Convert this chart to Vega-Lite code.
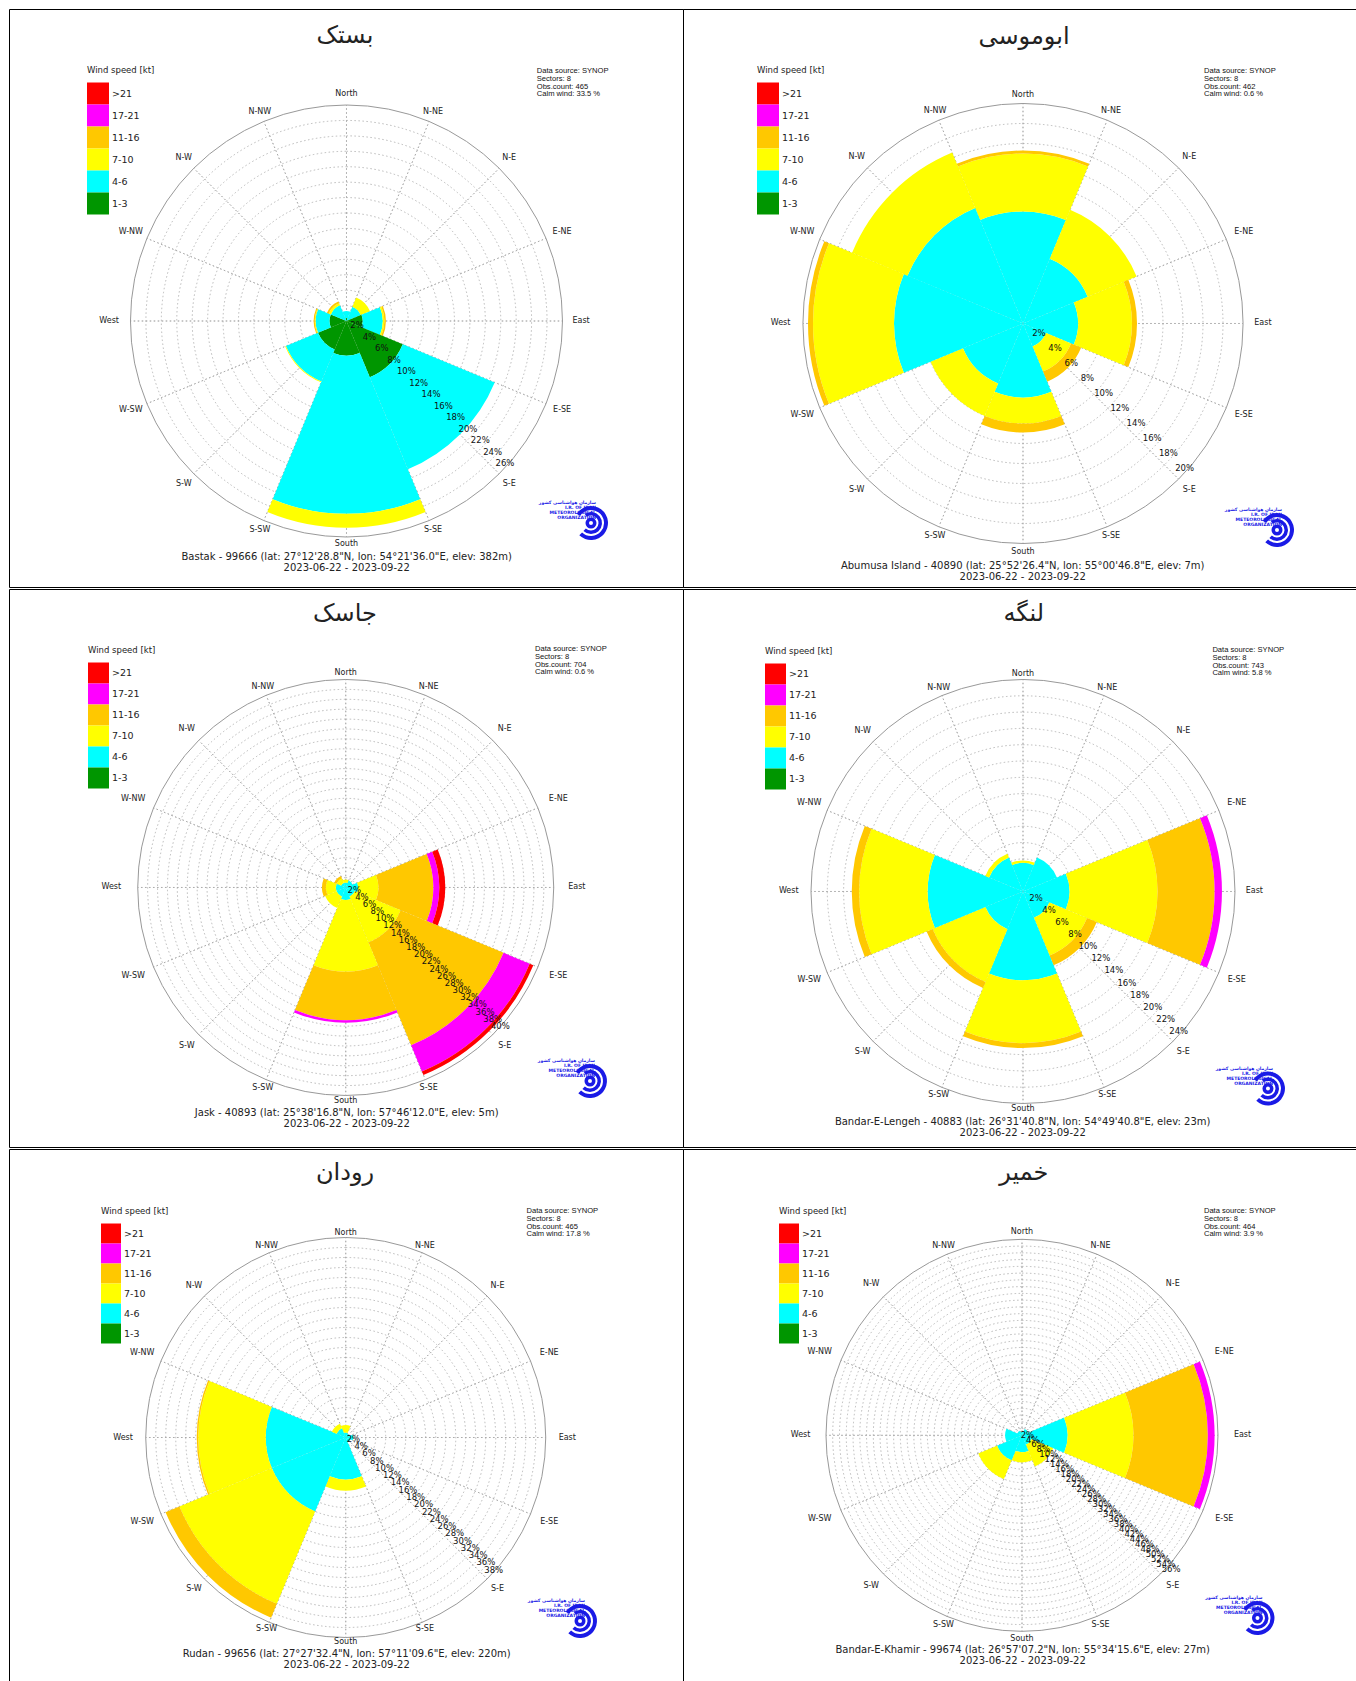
{
  "$schema": "https://vega.github.io/schema/vega-lite/v6.json",
  "background": "white",
  "padding": {"left": 8, "top": 8, "right": 0, "bottom": 0},
  "spacing": 0,
  "resolve": {"scale": {"color": "independent", "radius": "independent", "theta": "independent", "x": "independent", "y": "independent"}, "legend": {"color": "independent"}},
  "config": {
    "view": {"stroke": "#000000", "strokeWidth": 1},
    "text": {"font": "DejaVu Sans"},
    "legend": {"symbolType": "square", "symbolStrokeWidth": 0, "symbolOpacity": 1, "rowPadding": 0, "labelFont": "DejaVu Sans", "labelFontSize": 9.5, "labelColor": "#222222", "labelOffset": 3, "titleFont": "DejaVu Sans", "titleFontSize": 8.5, "titleFontWeight": "normal", "titleColor": "#222222", "titlePadding": 8}
  },
  "datasets": {
    "compass": [
      {"a": 0, "n": "North"}, {"a": 22.5, "n": "N-NE"}, {"a": 45, "n": "N-E"}, {"a": 67.5, "n": "E-NE"},
      {"a": 90, "n": "East"}, {"a": 112.5, "n": "E-SE"}, {"a": 135, "n": "S-E"}, {"a": 157.5, "n": "S-SE"},
      {"a": 180, "n": "South"}, {"a": 202.5, "n": "S-SW"}, {"a": 225, "n": "S-W"}, {"a": 247.5, "n": "W-SW"},
      {"a": 270, "n": "West"}, {"a": 292.5, "n": "W-NW"}, {"a": 315, "n": "N-W"}, {"a": 337.5, "n": "N-NW"}
    ],
    "r22": [{"r":2,"t":"2%"},{"r":4,"t":"4%"},{"r":6,"t":"6%"},{"r":8,"t":"8%"},{"r":10,"t":"10%"},{"r":12,"t":"12%"},{"r":14,"t":"14%"},{"r":16,"t":"16%"},{"r":18,"t":"18%"},{"r":20,"t":"20%"}],
    "r26": [{"r":2,"t":"2%"},{"r":4,"t":"4%"},{"r":6,"t":"6%"},{"r":8,"t":"8%"},{"r":10,"t":"10%"},{"r":12,"t":"12%"},{"r":14,"t":"14%"},{"r":16,"t":"16%"},{"r":18,"t":"18%"},{"r":20,"t":"20%"},{"r":22,"t":"22%"},{"r":24,"t":"24%"}],
    "r28": [{"r":2,"t":"2%"},{"r":4,"t":"4%"},{"r":6,"t":"6%"},{"r":8,"t":"8%"},{"r":10,"t":"10%"},{"r":12,"t":"12%"},{"r":14,"t":"14%"},{"r":16,"t":"16%"},{"r":18,"t":"18%"},{"r":20,"t":"20%"},{"r":22,"t":"22%"},{"r":24,"t":"24%"},{"r":26,"t":"26%"}],
    "r40": [{"r":2,"t":"2%"},{"r":4,"t":"4%"},{"r":6,"t":"6%"},{"r":8,"t":"8%"},{"r":10,"t":"10%"},{"r":12,"t":"12%"},{"r":14,"t":"14%"},{"r":16,"t":"16%"},{"r":18,"t":"18%"},{"r":20,"t":"20%"},{"r":22,"t":"22%"},{"r":24,"t":"24%"},{"r":26,"t":"26%"},{"r":28,"t":"28%"},{"r":30,"t":"30%"},{"r":32,"t":"32%"},{"r":34,"t":"34%"},{"r":36,"t":"36%"},{"r":38,"t":"38%"}],
    "r42": [{"r":2,"t":"2%"},{"r":4,"t":"4%"},{"r":6,"t":"6%"},{"r":8,"t":"8%"},{"r":10,"t":"10%"},{"r":12,"t":"12%"},{"r":14,"t":"14%"},{"r":16,"t":"16%"},{"r":18,"t":"18%"},{"r":20,"t":"20%"},{"r":22,"t":"22%"},{"r":24,"t":"24%"},{"r":26,"t":"26%"},{"r":28,"t":"28%"},{"r":30,"t":"30%"},{"r":32,"t":"32%"},{"r":34,"t":"34%"},{"r":36,"t":"36%"},{"r":38,"t":"38%"},{"r":40,"t":"40%"}],
    "r58": [{"r":2,"t":"2%"},{"r":4,"t":"4%"},{"r":6,"t":"6%"},{"r":8,"t":"8%"},{"r":10,"t":"10%"},{"r":12,"t":"12%"},{"r":14,"t":"14%"},{"r":16,"t":"16%"},{"r":18,"t":"18%"},{"r":20,"t":"20%"},{"r":22,"t":"22%"},{"r":24,"t":"24%"},{"r":26,"t":"26%"},{"r":28,"t":"28%"},{"r":30,"t":"30%"},{"r":32,"t":"32%"},{"r":34,"t":"34%"},{"r":36,"t":"36%"},{"r":38,"t":"38%"},{"r":40,"t":"40%"},{"r":42,"t":"42%"},{"r":44,"t":"44%"},{"r":46,"t":"46%"},{"r":48,"t":"48%"},{"r":50,"t":"50%"},{"r":52,"t":"52%"},{"r":54,"t":"54%"},{"r":56,"t":"56%"}],
    "bastak": [
      {"dir":0,"speed":"1-3","lo":0,"hi":0.4},{"dir":0,"speed":"4-6","lo":0.4,"hi":1.3},
      {"dir":45,"speed":"4-6","lo":0,"hi":2.0},{"dir":45,"speed":"7-10","lo":2.0,"hi":3.3},
      {"dir":90,"speed":"1-3","lo":0,"hi":2.1},{"dir":90,"speed":"4-6","lo":2.1,"hi":4.7},{"dir":90,"speed":"7-10","lo":4.7,"hi":4.9},{"dir":90,"speed":"11-16","lo":4.9,"hi":5.1},
      {"dir":135,"speed":"1-3","lo":0,"hi":7.9},{"dir":135,"speed":"4-6","lo":7.9,"hi":20.8},
      {"dir":180,"speed":"1-3","lo":0,"hi":4.5},{"dir":180,"speed":"4-6","lo":4.5,"hi":25.0},{"dir":180,"speed":"7-10","lo":25.0,"hi":26.8},
      {"dir":225,"speed":"1-3","lo":0,"hi":4.0},{"dir":225,"speed":"4-6","lo":4.0,"hi":8.5},{"dir":225,"speed":"7-10","lo":8.5,"hi":8.6},
      {"dir":270,"speed":"1-3","lo":0,"hi":2.2},{"dir":270,"speed":"4-6","lo":2.2,"hi":4.0},{"dir":270,"speed":"7-10","lo":4.0,"hi":4.1},{"dir":270,"speed":"11-16","lo":4.1,"hi":4.25},
      {"dir":315,"speed":"4-6","lo":0,"hi":2.2},{"dir":315,"speed":"7-10","lo":2.2,"hi":2.5},{"dir":315,"speed":"11-16","lo":2.5,"hi":2.75}
    ],
    "abumusa": [
      {"dir":0,"speed":"4-6","lo":0,"hi":11.2},{"dir":0,"speed":"7-10","lo":11.2,"hi":17.0},{"dir":0,"speed":"11-16","lo":17.0,"hi":17.3},
      {"dir":45,"speed":"4-6","lo":0,"hi":7.0},{"dir":45,"speed":"7-10","lo":7.0,"hi":12.3},
      {"dir":90,"speed":"4-6","lo":0,"hi":5.5},{"dir":90,"speed":"7-10","lo":5.5,"hi":10.9},{"dir":90,"speed":"11-16","lo":10.9,"hi":11.4},
      {"dir":135,"speed":"4-6","lo":0,"hi":2.5},{"dir":135,"speed":"7-10","lo":2.5,"hi":5.2},{"dir":135,"speed":"11-16","lo":5.2,"hi":6.3},
      {"dir":180,"speed":"4-6","lo":0,"hi":7.4},{"dir":180,"speed":"7-10","lo":7.4,"hi":10.0},{"dir":180,"speed":"11-16","lo":10.0,"hi":10.9},
      {"dir":225,"speed":"4-6","lo":0,"hi":6.5},{"dir":225,"speed":"7-10","lo":6.5,"hi":10.0},
      {"dir":270,"speed":"4-6","lo":0,"hi":12.9},{"dir":270,"speed":"7-10","lo":12.9,"hi":21.0},{"dir":270,"speed":"11-16","lo":21.0,"hi":21.5},
      {"dir":315,"speed":"4-6","lo":0,"hi":12.5},{"dir":315,"speed":"7-10","lo":12.5,"hi":18.5}
    ],
    "jask": [
      {"dir":0,"speed":"4-6","lo":0,"hi":1.0},{"dir":0,"speed":"7-10","lo":1.0,"hi":1.6},
      {"dir":45,"speed":"4-6","lo":0,"hi":1.5},
      {"dir":90,"speed":"4-6","lo":0,"hi":2.5},{"dir":90,"speed":"7-10","lo":2.5,"hi":6.6},{"dir":90,"speed":"11-16","lo":6.6,"hi":17.7},{"dir":90,"speed":"17-21","lo":17.7,"hi":18.9},{"dir":90,"speed":">21","lo":18.9,"hi":20.1},
      {"dir":135,"speed":"4-6","lo":0,"hi":2.0},{"dir":135,"speed":"7-10","lo":2.0,"hi":12.0},{"dir":135,"speed":"11-16","lo":12.0,"hi":34.5},{"dir":135,"speed":"17-21","lo":34.5,"hi":40.2},{"dir":135,"speed":">21","lo":40.2,"hi":41.0},
      {"dir":180,"speed":"4-6","lo":0,"hi":2.5},{"dir":180,"speed":"7-10","lo":2.5,"hi":17.0},{"dir":180,"speed":"11-16","lo":17.0,"hi":26.8},{"dir":180,"speed":"17-21","lo":26.8,"hi":27.3},
      {"dir":225,"speed":"4-6","lo":0,"hi":2.0},{"dir":225,"speed":"7-10","lo":2.0,"hi":4.5},
      {"dir":270,"speed":"4-6","lo":0,"hi":2.0},{"dir":270,"speed":"7-10","lo":2.0,"hi":4.0},{"dir":270,"speed":"11-16","lo":4.0,"hi":4.8},
      {"dir":315,"speed":"4-6","lo":0,"hi":1.0},{"dir":315,"speed":"7-10","lo":1.0,"hi":2.0},{"dir":315,"speed":"11-16","lo":2.0,"hi":2.5}
    ],
    "lengeh": [
      {"dir":0,"speed":"4-6","lo":0,"hi":3.5},{"dir":0,"speed":"7-10","lo":3.5,"hi":3.8},
      {"dir":45,"speed":"4-6","lo":0,"hi":4.5},
      {"dir":90,"speed":"4-6","lo":0,"hi":5.7},{"dir":90,"speed":"7-10","lo":5.7,"hi":16.5},{"dir":90,"speed":"11-16","lo":16.5,"hi":23.5},{"dir":90,"speed":"17-21","lo":23.5,"hi":24.4},
      {"dir":135,"speed":"4-6","lo":0,"hi":3.5},{"dir":135,"speed":"7-10","lo":3.5,"hi":8.5},{"dir":135,"speed":"11-16","lo":8.5,"hi":9.8},
      {"dir":180,"speed":"4-6","lo":0,"hi":10.9},{"dir":180,"speed":"7-10","lo":10.9,"hi":18.6},{"dir":180,"speed":"11-16","lo":18.6,"hi":19.2},
      {"dir":225,"speed":"4-6","lo":0,"hi":5.0},{"dir":225,"speed":"7-10","lo":5.0,"hi":12.0},{"dir":225,"speed":"11-16","lo":12.0,"hi":12.8},
      {"dir":270,"speed":"4-6","lo":0,"hi":11.7},{"dir":270,"speed":"7-10","lo":11.7,"hi":20.1},{"dir":270,"speed":"11-16","lo":20.1,"hi":21.0},
      {"dir":315,"speed":"4-6","lo":0,"hi":4.5},{"dir":315,"speed":"7-10","lo":4.5,"hi":5.0}
    ],
    "rudan": [
      {"dir":0,"speed":"4-6","lo":0,"hi":1.0},{"dir":0,"speed":"7-10","lo":1.0,"hi":2.5},
      {"dir":45,"speed":"4-6","lo":0,"hi":0.8},
      {"dir":90,"speed":"4-6","lo":0,"hi":1.5},
      {"dir":135,"speed":"4-6","lo":0,"hi":1.0},
      {"dir":180,"speed":"4-6","lo":0,"hi":8.4},{"dir":180,"speed":"7-10","lo":8.4,"hi":10.6},
      {"dir":225,"speed":"4-6","lo":0,"hi":16.0},{"dir":225,"speed":"7-10","lo":16.0,"hi":36.0},{"dir":225,"speed":"11-16","lo":36.0,"hi":39.0},
      {"dir":270,"speed":"4-6","lo":0,"hi":16.0},{"dir":270,"speed":"7-10","lo":16.0,"hi":29.5},{"dir":270,"speed":"11-16","lo":29.5,"hi":29.8},
      {"dir":315,"speed":"4-6","lo":0,"hi":2.0},{"dir":315,"speed":"7-10","lo":2.0,"hi":3.0}
    ],
    "khamir": [
      {"dir":0,"speed":"4-6","lo":0,"hi":1.0},
      {"dir":45,"speed":"4-6","lo":0,"hi":2.0},
      {"dir":90,"speed":"4-6","lo":0,"hi":13.5},{"dir":90,"speed":"7-10","lo":13.5,"hi":33.0},{"dir":90,"speed":"11-16","lo":33.0,"hi":55.0},{"dir":90,"speed":"17-21","lo":55.0,"hi":57.0},
      {"dir":135,"speed":"4-6","lo":0,"hi":3.0},{"dir":135,"speed":"7-10","lo":3.0,"hi":10.0},
      {"dir":180,"speed":"4-6","lo":0,"hi":5.0},{"dir":180,"speed":"7-10","lo":5.0,"hi":8.0},
      {"dir":225,"speed":"4-6","lo":0,"hi":8.0},{"dir":225,"speed":"7-10","lo":8.0,"hi":14.0},
      {"dir":270,"speed":"4-6","lo":0,"hi":5.0},
      {"dir":315,"speed":"4-6","lo":0,"hi":1.5}
    ]
  },
  "vconcat": [
    {
      "spacing": 0, "bounds": "flush",
      "resolve": {"scale": {"color": "independent", "radius": "independent", "theta": "independent", "x": "independent", "y": "independent"}, "legend": {"color": "independent"}},
      "hconcat": [
        {
          "width": 674, "height": 578,
          "resolve": {"scale": {"radius": "independent"}},
          "layer": [
            {"data": {"name": "compass"}, "mark": {"type": "arc", "fill": null, "stroke": "#a8a8a8", "strokeWidth": 0.8, "strokeDash": [1.5, 2.5], "strokeDashOffset": 0.75},
             "encoding": {"x": {"datum": 50.07, "type": "quantitative", "scale": {"domain": [0, 100], "nice": false, "zero": false}, "axis": null}, "y": {"datum": 53.98, "type": "quantitative", "scale": {"domain": [0, 100], "nice": false, "zero": false, "reverse": true}, "axis": null},
                          "theta": {"field": "a", "type": "quantitative", "stack": null, "scale": {"type": "linear", "domain": [0, 360], "range": [0, 6.283185307179586]}}, "theta2": {"field": "a"},
                          "radius": {"datum": 28, "type": "quantitative", "stack": null, "scale": {"type": "linear", "domain": [0, 28], "range": [0, 216], "zero": true, "nice": false}}}},
            {"data": {"name": "r28"}, "mark": {"type": "arc", "theta": 0, "theta2": 6.2832, "fill": null, "stroke": "#a8a8a8", "strokeWidth": 0.8, "strokeDash": [1.5, 2.5]},
             "encoding": {"x": {"datum": 50.07, "type": "quantitative"}, "y": {"datum": 53.98, "type": "quantitative"}, "radius": {"field": "r", "type": "quantitative", "stack": null, "scale": {"type": "linear", "domain": [0, 28], "range": [0, 216], "zero": true, "nice": false}}}},
            {"data": {"name": "bastak"}, "mark": {"type": "arc", "thetaOffset": -0.3927, "theta2Offset": 0.3927},
             "encoding": {"x": {"datum": 50.07, "type": "quantitative"}, "y": {"datum": 53.98, "type": "quantitative"},
                          "theta": {"field": "dir", "type": "quantitative", "stack": null}, "theta2": {"field": "dir"},
                          "radius": {"field": "lo", "type": "quantitative", "stack": null, "scale": {"type": "linear", "domain": [0, 28], "range": [0, 216], "zero": true, "nice": false}}, "radius2": {"field": "hi"},
                          "color": {"field": "speed", "type": "nominal", "scale": {"domain": [">21", "17-21", "11-16", "7-10", "4-6", "1-3"], "range": ["#ff0000", "#ff00ff", "#ffc800", "#ffff00", "#00ffff", "#009600"]},
                                    "legend": {"orient": "none", "legendX": 78, "legendY": 57, "title": "Wind speed [kt]", "symbolSize": 484}}}},
            {"data": {"values": [{}]}, "mark": {"type": "arc", "theta": 0, "theta2": 6.2832, "fill": null, "stroke": "#999999", "strokeWidth": 1},
             "encoding": {"x": {"datum": 50.07, "type": "quantitative"}, "y": {"datum": 53.98, "type": "quantitative"}, "radius": {"datum": 28, "type": "quantitative", "stack": null, "scale": {"type": "linear", "domain": [0, 28], "range": [0, 216], "zero": true, "nice": false}}}},
            {"data": {"name": "compass"}, "transform": [{"filter": "datum.a == 0"}], "mark": {"type": "text", "radiusOffset": 10.7, "fontSize": 8, "fill": "#222222"},
             "encoding": {"x": {"datum": 50.07, "type": "quantitative"}, "y": {"datum": 53.98, "type": "quantitative"}, "theta": {"field": "a", "type": "quantitative", "stack": null}, "radius": {"datum": 28, "type": "quantitative", "stack": null, "scale": {"type": "linear", "domain": [0, 28], "range": [0, 216], "zero": true, "nice": false}}, "text": {"field": "n"}}},
            {"data": {"name": "compass"}, "transform": [{"filter": "datum.a == 180"}], "mark": {"type": "text", "radiusOffset": 6.5, "fontSize": 8, "fill": "#222222"},
             "encoding": {"x": {"datum": 50.07, "type": "quantitative"}, "y": {"datum": 53.98, "type": "quantitative"}, "theta": {"field": "a", "type": "quantitative", "stack": null}, "radius": {"datum": 28, "type": "quantitative", "stack": null, "scale": {"type": "linear", "domain": [0, 28], "range": [0, 216], "zero": true, "nice": false}}, "text": {"field": "n"}}},
            {"data": {"name": "compass"}, "transform": [{"filter": "datum.a == 22.5 || datum.a == 157.5 || datum.a == 202.5 || datum.a == 337.5"}], "mark": {"type": "text", "radiusOffset": 10.3, "fontSize": 8, "fill": "#222222"},
             "encoding": {"x": {"datum": 50.07, "type": "quantitative"}, "y": {"datum": 53.98, "type": "quantitative"}, "theta": {"field": "a", "type": "quantitative", "stack": null}, "radius": {"datum": 28, "type": "quantitative", "stack": null, "scale": {"type": "linear", "domain": [0, 28], "range": [0, 216], "zero": true, "nice": false}}, "text": {"field": "n"}}},
            {"data": {"name": "compass"}, "transform": [{"filter": "datum.a == 45 || datum.a == 135 || datum.a == 225 || datum.a == 315"}], "mark": {"type": "text", "radiusOffset": 14.1, "fontSize": 8, "fill": "#222222"},
             "encoding": {"x": {"datum": 50.07, "type": "quantitative"}, "y": {"datum": 53.98, "type": "quantitative"}, "theta": {"field": "a", "type": "quantitative", "stack": null}, "radius": {"datum": 28, "type": "quantitative", "stack": null, "scale": {"type": "linear", "domain": [0, 28], "range": [0, 216], "zero": true, "nice": false}}, "text": {"field": "n"}}},
            {"data": {"name": "compass"}, "transform": [{"filter": "datum.a == 67.5 || datum.a == 112.5 || datum.a == 247.5 || datum.a == 292.5"}], "mark": {"type": "text", "radiusOffset": 17.4, "fontSize": 8, "fill": "#222222"},
             "encoding": {"x": {"datum": 50.07, "type": "quantitative"}, "y": {"datum": 53.98, "type": "quantitative"}, "theta": {"field": "a", "type": "quantitative", "stack": null}, "radius": {"datum": 28, "type": "quantitative", "stack": null, "scale": {"type": "linear", "domain": [0, 28], "range": [0, 216], "zero": true, "nice": false}}, "text": {"field": "n"}}},
            {"data": {"name": "compass"}, "transform": [{"filter": "datum.a == 90"}], "mark": {"type": "text", "align": "left", "radiusOffset": 10, "fontSize": 8, "fill": "#222222"},
             "encoding": {"x": {"datum": 50.07, "type": "quantitative"}, "y": {"datum": 53.98, "type": "quantitative"}, "theta": {"field": "a", "type": "quantitative", "stack": null}, "radius": {"datum": 28, "type": "quantitative", "stack": null, "scale": {"type": "linear", "domain": [0, 28], "range": [0, 216], "zero": true, "nice": false}}, "text": {"field": "n"}}},
            {"data": {"name": "compass"}, "transform": [{"filter": "datum.a == 270"}], "mark": {"type": "text", "align": "right", "radiusOffset": 11.5, "fontSize": 8, "fill": "#222222"},
             "encoding": {"x": {"datum": 50.07, "type": "quantitative"}, "y": {"datum": 53.98, "type": "quantitative"}, "theta": {"field": "a", "type": "quantitative", "stack": null}, "radius": {"datum": 28, "type": "quantitative", "stack": null, "scale": {"type": "linear", "domain": [0, 28], "range": [0, 216], "zero": true, "nice": false}}, "text": {"field": "n"}}},
            {"data": {"name": "r28"}, "mark": {"type": "text", "fontSize": 8.5, "fill": "#111111", "dx": 3, "dy": -3},
             "encoding": {"x": {"datum": 50.07, "type": "quantitative"}, "y": {"datum": 53.98, "type": "quantitative"}, "theta": {"datum": 133, "type": "quantitative"}, "radius": {"field": "r", "type": "quantitative", "stack": null, "scale": {"type": "linear", "domain": [0, 28], "range": [-6.45, 229.45], "zero": false, "nice": false}}, "text": {"field": "t"}}},
            {"data": {"values": [{}]}, "mark": {"type": "text", "fontSize": 24, "fill": "#222222", "baseline": "middle"},
             "encoding": {"x": {"datum": 49.85, "type": "quantitative"}, "y": {"datum": 4.67, "type": "quantitative"}, "text": {"value": "بستک"}}},
            {"data": {"values": [{}]}, "mark": {"type": "text", "font": "Liberation Sans", "fontSize": 7.6, "align": "left", "baseline": "top", "lineHeight": 7.8, "fill": "#111111"},
             "encoding": {"x": {"datum": 78.3, "type": "quantitative"}, "y": {"datum": 10.02, "type": "quantitative"}, "text": {"value": ["Data source: SYNOP", "Sectors: 8", "Obs.count: 465", "Calm wind: 33.5 %"]}}},
            {"data": {"values": [{}]}, "mark": {"type": "text", "fontSize": 10, "align": "center", "baseline": "top", "lineHeight": 11, "fill": "#222222"},
             "encoding": {"x": {"datum": 50.1, "type": "quantitative"}, "y": {"datum": 93.94, "type": "quantitative"}, "text": {"value": ["Bastak - 99666 (lat: 27°12'28.8\"N, lon: 54°21'36.0\"E, elev: 382m)", "2023-06-22 - 2023-09-22"]}}},
            {"data": {"values": [{}]}, "mark": {"type": "arc", "radius": 17, "radius2": 13, "theta": -1.0, "theta2": 3.9, "fill": "#1a1ae6"},
             "encoding": {"x": {"datum": 86.35, "type": "quantitative"}, "y": {"datum": 88.93, "type": "quantitative"}}},
            {"data": {"values": [{}]}, "mark": {"type": "arc", "radius": 11, "radius2": 7.5, "theta": -0.6, "theta2": 3.9, "fill": "#1a1ae6"},
             "encoding": {"x": {"datum": 86.35, "type": "quantitative"}, "y": {"datum": 88.93, "type": "quantitative"}}},
            {"data": {"values": [{}]}, "mark": {"type": "arc", "radius": 5.5, "radius2": 2, "theta": 0, "theta2": 6.2832, "fill": "#1a1ae6"},
             "encoding": {"x": {"datum": 86.35, "type": "quantitative"}, "y": {"datum": 88.93, "type": "quantitative"}}},
            {"data": {"values": [{}]}, "mark": {"type": "text", "fontSize": 4.5, "fontWeight": "bold", "align": "right", "baseline": "top", "lineHeight": 5, "fill": "#1a1ae6", "dx": 5, "dy": -23},
             "encoding": {"x": {"datum": 86.35, "type": "quantitative"}, "y": {"datum": 88.93, "type": "quantitative"}, "text": {"value": ["سازمان هواشناسی کشور", "I.R. OF IRAN", "METEOROLOGICAL", "ORGANIZATION"]}}}
          ]
        },
        {
          "width": 673, "height": 578,
          "resolve": {"scale": {"radius": "independent"}},
          "layer": [
            {"data": {"name": "compass"}, "mark": {"type": "arc", "fill": null, "stroke": "#a8a8a8", "strokeWidth": 0.8, "strokeDash": [1.5, 2.5], "strokeDashOffset": 0.75},
             "encoding": {"x": {"datum": 50.52, "type": "quantitative", "scale": {"domain": [0, 100], "nice": false, "zero": false}, "axis": null}, "y": {"datum": 54.41, "type": "quantitative", "scale": {"domain": [0, 100], "nice": false, "zero": false, "reverse": true}, "axis": null},
                          "theta": {"field": "a", "type": "quantitative", "stack": null, "scale": {"type": "linear", "domain": [0, 360], "range": [0, 6.283185307179586]}}, "theta2": {"field": "a"},
                          "radius": {"datum": 22, "type": "quantitative", "stack": null, "scale": {"type": "linear", "domain": [0, 22], "range": [0, 220], "zero": true, "nice": false}}}},
            {"data": {"name": "r22"}, "mark": {"type": "arc", "theta": 0, "theta2": 6.2832, "fill": null, "stroke": "#a8a8a8", "strokeWidth": 0.8, "strokeDash": [1.5, 2.5]},
             "encoding": {"x": {"datum": 50.52, "type": "quantitative"}, "y": {"datum": 54.41, "type": "quantitative"}, "radius": {"field": "r", "type": "quantitative", "stack": null, "scale": {"type": "linear", "domain": [0, 22], "range": [0, 220], "zero": true, "nice": false}}}},
            {"data": {"name": "abumusa"}, "mark": {"type": "arc", "thetaOffset": -0.3927, "theta2Offset": 0.3927},
             "encoding": {"x": {"datum": 50.52, "type": "quantitative"}, "y": {"datum": 54.41, "type": "quantitative"},
                          "theta": {"field": "dir", "type": "quantitative", "stack": null}, "theta2": {"field": "dir"},
                          "radius": {"field": "lo", "type": "quantitative", "stack": null, "scale": {"type": "linear", "domain": [0, 22], "range": [0, 220], "zero": true, "nice": false}}, "radius2": {"field": "hi"},
                          "color": {"field": "speed", "type": "nominal", "scale": {"domain": [">21", "17-21", "11-16", "7-10", "4-6", "1-3"], "range": ["#ff0000", "#ff00ff", "#ffc800", "#ffff00", "#00ffff", "#009600"]},
                                    "legend": {"orient": "none", "legendX": 74, "legendY": 57, "title": "Wind speed [kt]", "symbolSize": 484}}}},
            {"data": {"values": [{}]}, "mark": {"type": "arc", "theta": 0, "theta2": 6.2832, "fill": null, "stroke": "#999999", "strokeWidth": 1},
             "encoding": {"x": {"datum": 50.52, "type": "quantitative"}, "y": {"datum": 54.41, "type": "quantitative"}, "radius": {"datum": 22, "type": "quantitative", "stack": null, "scale": {"type": "linear", "domain": [0, 22], "range": [0, 220], "zero": true, "nice": false}}}},
            {"data": {"name": "compass"}, "transform": [{"filter": "datum.a == 0"}], "mark": {"type": "text", "radiusOffset": 8.1, "fontSize": 8, "fill": "#222222"},
             "encoding": {"x": {"datum": 50.52, "type": "quantitative"}, "y": {"datum": 54.41, "type": "quantitative"}, "theta": {"field": "a", "type": "quantitative", "stack": null}, "radius": {"datum": 22, "type": "quantitative", "stack": null, "scale": {"type": "linear", "domain": [0, 22], "range": [0, 220], "zero": true, "nice": false}}, "text": {"field": "n"}}},
            {"data": {"name": "compass"}, "transform": [{"filter": "datum.a == 180"}], "mark": {"type": "text", "radiusOffset": 8.6, "fontSize": 8, "fill": "#222222"},
             "encoding": {"x": {"datum": 50.52, "type": "quantitative"}, "y": {"datum": 54.41, "type": "quantitative"}, "theta": {"field": "a", "type": "quantitative", "stack": null}, "radius": {"datum": 22, "type": "quantitative", "stack": null, "scale": {"type": "linear", "domain": [0, 22], "range": [0, 220], "zero": true, "nice": false}}, "text": {"field": "n"}}},
            {"data": {"name": "compass"}, "transform": [{"filter": "datum.a == 22.5 || datum.a == 157.5 || datum.a == 202.5 || datum.a == 337.5"}], "mark": {"type": "text", "radiusOffset": 9.9, "fontSize": 8, "fill": "#222222"},
             "encoding": {"x": {"datum": 50.52, "type": "quantitative"}, "y": {"datum": 54.41, "type": "quantitative"}, "theta": {"field": "a", "type": "quantitative", "stack": null}, "radius": {"datum": 22, "type": "quantitative", "stack": null, "scale": {"type": "linear", "domain": [0, 22], "range": [0, 220], "zero": true, "nice": false}}, "text": {"field": "n"}}},
            {"data": {"name": "compass"}, "transform": [{"filter": "datum.a == 45 || datum.a == 135 || datum.a == 225 || datum.a == 315"}], "mark": {"type": "text", "radiusOffset": 15.2, "fontSize": 8, "fill": "#222222"},
             "encoding": {"x": {"datum": 50.52, "type": "quantitative"}, "y": {"datum": 54.41, "type": "quantitative"}, "theta": {"field": "a", "type": "quantitative", "stack": null}, "radius": {"datum": 22, "type": "quantitative", "stack": null, "scale": {"type": "linear", "domain": [0, 22], "range": [0, 220], "zero": true, "nice": false}}, "text": {"field": "n"}}},
            {"data": {"name": "compass"}, "transform": [{"filter": "datum.a == 67.5 || datum.a == 112.5 || datum.a == 247.5 || datum.a == 292.5"}], "mark": {"type": "text", "radiusOffset": 18.9, "fontSize": 8, "fill": "#222222"},
             "encoding": {"x": {"datum": 50.52, "type": "quantitative"}, "y": {"datum": 54.41, "type": "quantitative"}, "theta": {"field": "a", "type": "quantitative", "stack": null}, "radius": {"datum": 22, "type": "quantitative", "stack": null, "scale": {"type": "linear", "domain": [0, 22], "range": [0, 220], "zero": true, "nice": false}}, "text": {"field": "n"}}},
            {"data": {"name": "compass"}, "transform": [{"filter": "datum.a == 90"}], "mark": {"type": "text", "align": "left", "radiusOffset": 11.3, "fontSize": 8, "fill": "#222222"},
             "encoding": {"x": {"datum": 50.52, "type": "quantitative"}, "y": {"datum": 54.41, "type": "quantitative"}, "theta": {"field": "a", "type": "quantitative", "stack": null}, "radius": {"datum": 22, "type": "quantitative", "stack": null, "scale": {"type": "linear", "domain": [0, 22], "range": [0, 220], "zero": true, "nice": false}}, "text": {"field": "n"}}},
            {"data": {"name": "compass"}, "transform": [{"filter": "datum.a == 270"}], "mark": {"type": "text", "align": "right", "radiusOffset": 12.6, "fontSize": 8, "fill": "#222222"},
             "encoding": {"x": {"datum": 50.52, "type": "quantitative"}, "y": {"datum": 54.41, "type": "quantitative"}, "theta": {"field": "a", "type": "quantitative", "stack": null}, "radius": {"datum": 22, "type": "quantitative", "stack": null, "scale": {"type": "linear", "domain": [0, 22], "range": [0, 220], "zero": true, "nice": false}}, "text": {"field": "n"}}},
            {"data": {"name": "r22"}, "mark": {"type": "text", "fontSize": 8.5, "fill": "#111111", "dx": 3, "dy": -3},
             "encoding": {"x": {"datum": 50.52, "type": "quantitative"}, "y": {"datum": 54.41, "type": "quantitative"}, "theta": {"datum": 133, "type": "quantitative"}, "radius": {"field": "r", "type": "quantitative", "stack": null, "scale": {"type": "linear", "domain": [0, 22], "range": [-4.5, 239.0], "zero": false, "nice": false}}, "text": {"field": "t"}}},
            {"data": {"values": [{}]}, "mark": {"type": "text", "fontSize": 24, "fill": "#222222", "baseline": "middle"},
             "encoding": {"x": {"datum": 50.67, "type": "quantitative"}, "y": {"datum": 4.93, "type": "quantitative"}, "text": {"value": "ابوموسی"}}},
            {"data": {"values": [{}]}, "mark": {"type": "text", "font": "Liberation Sans", "fontSize": 7.6, "align": "left", "baseline": "top", "lineHeight": 7.8, "fill": "#111111"},
             "encoding": {"x": {"datum": 77.42, "type": "quantitative"}, "y": {"datum": 10.02, "type": "quantitative"}, "text": {"value": ["Data source: SYNOP", "Sectors: 8", "Obs.count: 462", "Calm wind: 0.6 %"]}}},
            {"data": {"values": [{}]}, "mark": {"type": "text", "fontSize": 10, "align": "center", "baseline": "top", "lineHeight": 11, "fill": "#222222"},
             "encoding": {"x": {"datum": 50.47, "type": "quantitative"}, "y": {"datum": 95.42, "type": "quantitative"}, "text": {"value": ["Abumusa Island - 40890 (lat: 25°52'26.4\"N, lon: 55°00'46.8\"E, elev: 7m)", "2023-06-22 - 2023-09-22"]}}},
            {"data": {"values": [{}]}, "mark": {"type": "arc", "radius": 17, "radius2": 13, "theta": -1.0, "theta2": 3.9, "fill": "#1a1ae6"},
             "encoding": {"x": {"datum": 88.26, "type": "quantitative"}, "y": {"datum": 90.14, "type": "quantitative"}}},
            {"data": {"values": [{}]}, "mark": {"type": "arc", "radius": 11, "radius2": 7.5, "theta": -0.6, "theta2": 3.9, "fill": "#1a1ae6"},
             "encoding": {"x": {"datum": 88.26, "type": "quantitative"}, "y": {"datum": 90.14, "type": "quantitative"}}},
            {"data": {"values": [{}]}, "mark": {"type": "arc", "radius": 5.5, "radius2": 2, "theta": 0, "theta2": 6.2832, "fill": "#1a1ae6"},
             "encoding": {"x": {"datum": 88.26, "type": "quantitative"}, "y": {"datum": 90.14, "type": "quantitative"}}},
            {"data": {"values": [{}]}, "mark": {"type": "text", "fontSize": 4.5, "fontWeight": "bold", "align": "right", "baseline": "top", "lineHeight": 5, "fill": "#1a1ae6", "dx": 5, "dy": -23},
             "encoding": {"x": {"datum": 88.26, "type": "quantitative"}, "y": {"datum": 90.14, "type": "quantitative"}, "text": {"value": ["سازمان هواشناسی کشور", "I.R. OF IRAN", "METEOROLOGICAL", "ORGANIZATION"]}}}
          ]
        }
      ]
    },
    {
      "spacing": 0, "bounds": "flush",
      "resolve": {"scale": {"color": "independent", "radius": "independent", "theta": "independent", "x": "independent", "y": "independent"}, "legend": {"color": "independent"}},
      "hconcat": [
        {
          "width": 674, "height": 558,
          "resolve": {"scale": {"radius": "independent"}},
          "layer": [
            {"data": {"name": "compass"}, "mark": {"type": "arc", "fill": null, "stroke": "#a8a8a8", "strokeWidth": 0.8, "strokeDash": [1.5, 2.5], "strokeDashOffset": 0.75},
             "encoding": {"x": {"datum": 49.96, "type": "quantitative", "scale": {"domain": [0, 100], "nice": false, "zero": false}, "axis": null}, "y": {"datum": 53.49, "type": "quantitative", "scale": {"domain": [0, 100], "nice": false, "zero": false, "reverse": true}, "axis": null},
                          "theta": {"field": "a", "type": "quantitative", "stack": null, "scale": {"type": "linear", "domain": [0, 360], "range": [0, 6.283185307179586]}}, "theta2": {"field": "a"},
                          "radius": {"datum": 42, "type": "quantitative", "stack": null, "scale": {"type": "linear", "domain": [0, 42], "range": [0, 208], "zero": true, "nice": false}}}},
            {"data": {"name": "r42"}, "mark": {"type": "arc", "theta": 0, "theta2": 6.2832, "fill": null, "stroke": "#a8a8a8", "strokeWidth": 0.8, "strokeDash": [1.5, 2.5]},
             "encoding": {"x": {"datum": 49.96, "type": "quantitative"}, "y": {"datum": 53.49, "type": "quantitative"}, "radius": {"field": "r", "type": "quantitative", "stack": null, "scale": {"type": "linear", "domain": [0, 42], "range": [0, 208], "zero": true, "nice": false}}}},
            {"data": {"name": "jask"}, "mark": {"type": "arc", "thetaOffset": -0.3927, "theta2Offset": 0.3927},
             "encoding": {"x": {"datum": 49.96, "type": "quantitative"}, "y": {"datum": 53.49, "type": "quantitative"},
                          "theta": {"field": "dir", "type": "quantitative", "stack": null}, "theta2": {"field": "dir"},
                          "radius": {"field": "lo", "type": "quantitative", "stack": null, "scale": {"type": "linear", "domain": [0, 42], "range": [0, 208], "zero": true, "nice": false}}, "radius2": {"field": "hi"},
                          "color": {"field": "speed", "type": "nominal", "scale": {"domain": [">21", "17-21", "11-16", "7-10", "4-6", "1-3"], "range": ["#ff0000", "#ff00ff", "#ffc800", "#ffff00", "#00ffff", "#009600"]},
                                    "legend": {"orient": "none", "legendX": 79, "legendY": 57, "title": "Wind speed [kt]", "symbolSize": 441}}}},
            {"data": {"values": [{}]}, "mark": {"type": "arc", "theta": 0, "theta2": 6.2832, "fill": null, "stroke": "#999999", "strokeWidth": 1},
             "encoding": {"x": {"datum": 49.96, "type": "quantitative"}, "y": {"datum": 53.49, "type": "quantitative"}, "radius": {"datum": 42, "type": "quantitative", "stack": null, "scale": {"type": "linear", "domain": [0, 42], "range": [0, 208], "zero": true, "nice": false}}}},
            {"data": {"name": "compass"}, "transform": [{"filter": "datum.a == 0"}], "mark": {"type": "text", "radiusOffset": 6.4, "fontSize": 8, "fill": "#222222"},
             "encoding": {"x": {"datum": 49.96, "type": "quantitative"}, "y": {"datum": 53.49, "type": "quantitative"}, "theta": {"field": "a", "type": "quantitative", "stack": null}, "radius": {"datum": 42, "type": "quantitative", "stack": null, "scale": {"type": "linear", "domain": [0, 42], "range": [0, 208], "zero": true, "nice": false}}, "text": {"field": "n"}}},
            {"data": {"name": "compass"}, "transform": [{"filter": "datum.a == 180"}], "mark": {"type": "text", "radiusOffset": 5.4, "fontSize": 8, "fill": "#222222"},
             "encoding": {"x": {"datum": 49.96, "type": "quantitative"}, "y": {"datum": 53.49, "type": "quantitative"}, "theta": {"field": "a", "type": "quantitative", "stack": null}, "radius": {"datum": 42, "type": "quantitative", "stack": null, "scale": {"type": "linear", "domain": [0, 42], "range": [0, 208], "zero": true, "nice": false}}, "text": {"field": "n"}}},
            {"data": {"name": "compass"}, "transform": [{"filter": "datum.a == 22.5 || datum.a == 157.5 || datum.a == 202.5 || datum.a == 337.5"}], "mark": {"type": "text", "radiusOffset": 8.7, "fontSize": 8, "fill": "#222222"},
             "encoding": {"x": {"datum": 49.96, "type": "quantitative"}, "y": {"datum": 53.49, "type": "quantitative"}, "theta": {"field": "a", "type": "quantitative", "stack": null}, "radius": {"datum": 42, "type": "quantitative", "stack": null, "scale": {"type": "linear", "domain": [0, 42], "range": [0, 208], "zero": true, "nice": false}}, "text": {"field": "n"}}},
            {"data": {"name": "compass"}, "transform": [{"filter": "datum.a == 45 || datum.a == 135 || datum.a == 225 || datum.a == 315"}], "mark": {"type": "text", "radiusOffset": 16.8, "fontSize": 8, "fill": "#222222"},
             "encoding": {"x": {"datum": 49.96, "type": "quantitative"}, "y": {"datum": 53.49, "type": "quantitative"}, "theta": {"field": "a", "type": "quantitative", "stack": null}, "radius": {"datum": 42, "type": "quantitative", "stack": null, "scale": {"type": "linear", "domain": [0, 42], "range": [0, 208], "zero": true, "nice": false}}, "text": {"field": "n"}}},
            {"data": {"name": "compass"}, "transform": [{"filter": "datum.a == 67.5 || datum.a == 112.5 || datum.a == 247.5 || datum.a == 292.5"}], "mark": {"type": "text", "radiusOffset": 22.1, "fontSize": 8, "fill": "#222222"},
             "encoding": {"x": {"datum": 49.96, "type": "quantitative"}, "y": {"datum": 53.49, "type": "quantitative"}, "theta": {"field": "a", "type": "quantitative", "stack": null}, "radius": {"datum": 42, "type": "quantitative", "stack": null, "scale": {"type": "linear", "domain": [0, 42], "range": [0, 208], "zero": true, "nice": false}}, "text": {"field": "n"}}},
            {"data": {"name": "compass"}, "transform": [{"filter": "datum.a == 90"}], "mark": {"type": "text", "align": "left", "radiusOffset": 14.5, "fontSize": 8, "fill": "#222222"},
             "encoding": {"x": {"datum": 49.96, "type": "quantitative"}, "y": {"datum": 53.49, "type": "quantitative"}, "theta": {"field": "a", "type": "quantitative", "stack": null}, "radius": {"datum": 42, "type": "quantitative", "stack": null, "scale": {"type": "linear", "domain": [0, 42], "range": [0, 208], "zero": true, "nice": false}}, "text": {"field": "n"}}},
            {"data": {"name": "compass"}, "transform": [{"filter": "datum.a == 270"}], "mark": {"type": "text", "align": "right", "radiusOffset": 16.6, "fontSize": 8, "fill": "#222222"},
             "encoding": {"x": {"datum": 49.96, "type": "quantitative"}, "y": {"datum": 53.49, "type": "quantitative"}, "theta": {"field": "a", "type": "quantitative", "stack": null}, "radius": {"datum": 42, "type": "quantitative", "stack": null, "scale": {"type": "linear", "domain": [0, 42], "range": [0, 208], "zero": true, "nice": false}}, "text": {"field": "n"}}},
            {"data": {"name": "r42"}, "mark": {"type": "text", "fontSize": 8.5, "fill": "#111111", "dx": 3, "dy": -3},
             "encoding": {"x": {"datum": 49.96, "type": "quantitative"}, "y": {"datum": 53.49, "type": "quantitative"}, "theta": {"datum": 133, "type": "quantitative"}, "radius": {"field": "r", "type": "quantitative", "stack": null, "scale": {"type": "linear", "domain": [0, 42], "range": [-3.0, 217.9], "zero": false, "nice": false}}, "text": {"field": "t"}}},
            {"data": {"values": [{}]}, "mark": {"type": "text", "fontSize": 24, "fill": "#222222", "baseline": "middle"},
             "encoding": {"x": {"datum": 49.85, "type": "quantitative"}, "y": {"datum": 4.48, "type": "quantitative"}, "text": {"value": "جاسک"}}},
            {"data": {"values": [{}]}, "mark": {"type": "text", "font": "Liberation Sans", "fontSize": 7.6, "align": "left", "baseline": "top", "lineHeight": 7.8, "fill": "#111111"},
             "encoding": {"x": {"datum": 78.04, "type": "quantitative"}, "y": {"datum": 10.04, "type": "quantitative"}, "text": {"value": ["Data source: SYNOP", "Sectors: 8", "Obs.count: 704", "Calm wind: 0.6 %"]}}},
            {"data": {"values": [{}]}, "mark": {"type": "text", "fontSize": 10, "align": "center", "baseline": "top", "lineHeight": 11, "fill": "#222222"},
             "encoding": {"x": {"datum": 50.1, "type": "quantitative"}, "y": {"datum": 93.1, "type": "quantitative"}, "text": {"value": ["Jask - 40893 (lat: 25°38'16.8\"N, lon: 57°46'12.0\"E, elev: 5m)", "2023-06-22 - 2023-09-22"]}}},
            {"data": {"values": [{}]}, "mark": {"type": "arc", "radius": 17, "radius2": 13, "theta": -1.0, "theta2": 3.9, "fill": "#1a1ae6"},
             "encoding": {"x": {"datum": 86.2, "type": "quantitative"}, "y": {"datum": 88.17, "type": "quantitative"}}},
            {"data": {"values": [{}]}, "mark": {"type": "arc", "radius": 11, "radius2": 7.5, "theta": -0.6, "theta2": 3.9, "fill": "#1a1ae6"},
             "encoding": {"x": {"datum": 86.2, "type": "quantitative"}, "y": {"datum": 88.17, "type": "quantitative"}}},
            {"data": {"values": [{}]}, "mark": {"type": "arc", "radius": 5.5, "radius2": 2, "theta": 0, "theta2": 6.2832, "fill": "#1a1ae6"},
             "encoding": {"x": {"datum": 86.2, "type": "quantitative"}, "y": {"datum": 88.17, "type": "quantitative"}}},
            {"data": {"values": [{}]}, "mark": {"type": "text", "fontSize": 4.5, "fontWeight": "bold", "align": "right", "baseline": "top", "lineHeight": 5, "fill": "#1a1ae6", "dx": 5, "dy": -23},
             "encoding": {"x": {"datum": 86.2, "type": "quantitative"}, "y": {"datum": 88.17, "type": "quantitative"}, "text": {"value": ["سازمان هواشناسی کشور", "I.R. OF IRAN", "METEOROLOGICAL", "ORGANIZATION"]}}}
          ]
        },
        {
          "width": 673, "height": 558,
          "resolve": {"scale": {"radius": "independent"}},
          "layer": [
            {"data": {"name": "compass"}, "mark": {"type": "arc", "fill": null, "stroke": "#a8a8a8", "strokeWidth": 0.8, "strokeDash": [1.5, 2.5], "strokeDashOffset": 0.75},
             "encoding": {"x": {"datum": 50.52, "type": "quantitative", "scale": {"domain": [0, 100], "nice": false, "zero": false}, "axis": null}, "y": {"datum": 54.21, "type": "quantitative", "scale": {"domain": [0, 100], "nice": false, "zero": false, "reverse": true}, "axis": null},
                          "theta": {"field": "a", "type": "quantitative", "stack": null, "scale": {"type": "linear", "domain": [0, 360], "range": [0, 6.283185307179586]}}, "theta2": {"field": "a"},
                          "radius": {"datum": 26, "type": "quantitative", "stack": null, "scale": {"type": "linear", "domain": [0, 26], "range": [0, 212], "zero": true, "nice": false}}}},
            {"data": {"name": "r26"}, "mark": {"type": "arc", "theta": 0, "theta2": 6.2832, "fill": null, "stroke": "#a8a8a8", "strokeWidth": 0.8, "strokeDash": [1.5, 2.5]},
             "encoding": {"x": {"datum": 50.52, "type": "quantitative"}, "y": {"datum": 54.21, "type": "quantitative"}, "radius": {"field": "r", "type": "quantitative", "stack": null, "scale": {"type": "linear", "domain": [0, 26], "range": [0, 212], "zero": true, "nice": false}}}},
            {"data": {"name": "lengeh"}, "mark": {"type": "arc", "thetaOffset": -0.3927, "theta2Offset": 0.3927},
             "encoding": {"x": {"datum": 50.52, "type": "quantitative"}, "y": {"datum": 54.21, "type": "quantitative"},
                          "theta": {"field": "dir", "type": "quantitative", "stack": null}, "theta2": {"field": "dir"},
                          "radius": {"field": "lo", "type": "quantitative", "stack": null, "scale": {"type": "linear", "domain": [0, 26], "range": [0, 212], "zero": true, "nice": false}}, "radius2": {"field": "hi"},
                          "color": {"field": "speed", "type": "nominal", "scale": {"domain": [">21", "17-21", "11-16", "7-10", "4-6", "1-3"], "range": ["#ff0000", "#ff00ff", "#ffc800", "#ffff00", "#00ffff", "#009600"]},
                                    "legend": {"orient": "none", "legendX": 82, "legendY": 58, "title": "Wind speed [kt]", "symbolSize": 441}}}},
            {"data": {"values": [{}]}, "mark": {"type": "arc", "theta": 0, "theta2": 6.2832, "fill": null, "stroke": "#999999", "strokeWidth": 1},
             "encoding": {"x": {"datum": 50.52, "type": "quantitative"}, "y": {"datum": 54.21, "type": "quantitative"}, "radius": {"datum": 26, "type": "quantitative", "stack": null, "scale": {"type": "linear", "domain": [0, 26], "range": [0, 212], "zero": true, "nice": false}}}},
            {"data": {"name": "compass"}, "transform": [{"filter": "datum.a == 0"}], "mark": {"type": "text", "radiusOffset": 5.3, "fontSize": 8, "fill": "#222222"},
             "encoding": {"x": {"datum": 50.52, "type": "quantitative"}, "y": {"datum": 54.21, "type": "quantitative"}, "theta": {"field": "a", "type": "quantitative", "stack": null}, "radius": {"datum": 26, "type": "quantitative", "stack": null, "scale": {"type": "linear", "domain": [0, 26], "range": [0, 212], "zero": true, "nice": false}}, "text": {"field": "n"}}},
            {"data": {"name": "compass"}, "transform": [{"filter": "datum.a == 180"}], "mark": {"type": "text", "radiusOffset": 5.9, "fontSize": 8, "fill": "#222222"},
             "encoding": {"x": {"datum": 50.52, "type": "quantitative"}, "y": {"datum": 54.21, "type": "quantitative"}, "theta": {"field": "a", "type": "quantitative", "stack": null}, "radius": {"datum": 26, "type": "quantitative", "stack": null, "scale": {"type": "linear", "domain": [0, 26], "range": [0, 212], "zero": true, "nice": false}}, "text": {"field": "n"}}},
            {"data": {"name": "compass"}, "transform": [{"filter": "datum.a == 22.5 || datum.a == 157.5 || datum.a == 202.5 || datum.a == 337.5"}], "mark": {"type": "text", "radiusOffset": 8.2, "fontSize": 8, "fill": "#222222"},
             "encoding": {"x": {"datum": 50.52, "type": "quantitative"}, "y": {"datum": 54.21, "type": "quantitative"}, "theta": {"field": "a", "type": "quantitative", "stack": null}, "radius": {"datum": 26, "type": "quantitative", "stack": null, "scale": {"type": "linear", "domain": [0, 26], "range": [0, 212], "zero": true, "nice": false}}, "text": {"field": "n"}}},
            {"data": {"name": "compass"}, "transform": [{"filter": "datum.a == 45 || datum.a == 135 || datum.a == 225 || datum.a == 315"}], "mark": {"type": "text", "radiusOffset": 14.8, "fontSize": 8, "fill": "#222222"},
             "encoding": {"x": {"datum": 50.52, "type": "quantitative"}, "y": {"datum": 54.21, "type": "quantitative"}, "theta": {"field": "a", "type": "quantitative", "stack": null}, "radius": {"datum": 26, "type": "quantitative", "stack": null, "scale": {"type": "linear", "domain": [0, 26], "range": [0, 212], "zero": true, "nice": false}}, "text": {"field": "n"}}},
            {"data": {"name": "compass"}, "transform": [{"filter": "datum.a == 67.5 || datum.a == 112.5 || datum.a == 247.5 || datum.a == 292.5"}], "mark": {"type": "text", "radiusOffset": 19.3, "fontSize": 8, "fill": "#222222"},
             "encoding": {"x": {"datum": 50.52, "type": "quantitative"}, "y": {"datum": 54.21, "type": "quantitative"}, "theta": {"field": "a", "type": "quantitative", "stack": null}, "radius": {"datum": 26, "type": "quantitative", "stack": null, "scale": {"type": "linear", "domain": [0, 26], "range": [0, 212], "zero": true, "nice": false}}, "text": {"field": "n"}}},
            {"data": {"name": "compass"}, "transform": [{"filter": "datum.a == 90"}], "mark": {"type": "text", "align": "left", "radiusOffset": 10.7, "fontSize": 8, "fill": "#222222"},
             "encoding": {"x": {"datum": 50.52, "type": "quantitative"}, "y": {"datum": 54.21, "type": "quantitative"}, "theta": {"field": "a", "type": "quantitative", "stack": null}, "radius": {"datum": 26, "type": "quantitative", "stack": null, "scale": {"type": "linear", "domain": [0, 26], "range": [0, 212], "zero": true, "nice": false}}, "text": {"field": "n"}}},
            {"data": {"name": "compass"}, "transform": [{"filter": "datum.a == 270"}], "mark": {"type": "text", "align": "right", "radiusOffset": 12.4, "fontSize": 8, "fill": "#222222"},
             "encoding": {"x": {"datum": 50.52, "type": "quantitative"}, "y": {"datum": 54.21, "type": "quantitative"}, "theta": {"field": "a", "type": "quantitative", "stack": null}, "radius": {"datum": 26, "type": "quantitative", "stack": null, "scale": {"type": "linear", "domain": [0, 26], "range": [0, 212], "zero": true, "nice": false}}, "text": {"field": "n"}}},
            {"data": {"name": "r26"}, "mark": {"type": "text", "fontSize": 8.5, "fill": "#111111", "dx": 3, "dy": -3},
             "encoding": {"x": {"datum": 50.52, "type": "quantitative"}, "y": {"datum": 54.21, "type": "quantitative"}, "theta": {"datum": 133, "type": "quantitative"}, "radius": {"field": "r", "type": "quantitative", "stack": null, "scale": {"type": "linear", "domain": [0, 26], "range": [-3.9, 226.5], "zero": false, "nice": false}}, "text": {"field": "t"}}},
            {"data": {"values": [{}]}, "mark": {"type": "text", "fontSize": 24, "fill": "#222222", "baseline": "middle"},
             "encoding": {"x": {"datum": 50.64, "type": "quantitative"}, "y": {"datum": 4.48, "type": "quantitative"}, "text": {"value": "لنگه"}}},
            {"data": {"values": [{}]}, "mark": {"type": "text", "font": "Liberation Sans", "fontSize": 7.6, "align": "left", "baseline": "top", "lineHeight": 7.8, "fill": "#111111"},
             "encoding": {"x": {"datum": 78.66, "type": "quantitative"}, "y": {"datum": 10.23, "type": "quantitative"}, "text": {"value": ["Data source: SYNOP", "Sectors: 8", "Obs.count: 743", "Calm wind: 5.8 %"]}}},
            {"data": {"values": [{}]}, "mark": {"type": "text", "fontSize": 10, "align": "center", "baseline": "top", "lineHeight": 11, "fill": "#222222"},
             "encoding": {"x": {"datum": 50.47, "type": "quantitative"}, "y": {"datum": 94.62, "type": "quantitative"}, "text": {"value": ["Bandar-E-Lengeh - 40883 (lat: 26°31'40.8\"N, lon: 54°49'40.8\"E, elev: 23m)", "2023-06-22 - 2023-09-22"]}}},
            {"data": {"values": [{}]}, "mark": {"type": "arc", "radius": 17, "radius2": 13, "theta": -1.0, "theta2": 3.9, "fill": "#1a1ae6"},
             "encoding": {"x": {"datum": 86.92, "type": "quantitative"}, "y": {"datum": 89.52, "type": "quantitative"}}},
            {"data": {"values": [{}]}, "mark": {"type": "arc", "radius": 11, "radius2": 7.5, "theta": -0.6, "theta2": 3.9, "fill": "#1a1ae6"},
             "encoding": {"x": {"datum": 86.92, "type": "quantitative"}, "y": {"datum": 89.52, "type": "quantitative"}}},
            {"data": {"values": [{}]}, "mark": {"type": "arc", "radius": 5.5, "radius2": 2, "theta": 0, "theta2": 6.2832, "fill": "#1a1ae6"},
             "encoding": {"x": {"datum": 86.92, "type": "quantitative"}, "y": {"datum": 89.52, "type": "quantitative"}}},
            {"data": {"values": [{}]}, "mark": {"type": "text", "fontSize": 4.5, "fontWeight": "bold", "align": "right", "baseline": "top", "lineHeight": 5, "fill": "#1a1ae6", "dx": 5, "dy": -23},
             "encoding": {"x": {"datum": 86.92, "type": "quantitative"}, "y": {"datum": 89.52, "type": "quantitative"}, "text": {"value": ["سازمان هواشناسی کشور", "I.R. OF IRAN", "METEOROLOGICAL", "ORGANIZATION"]}}}
          ]
        }
      ]
    },
    {
      "spacing": 0, "bounds": "flush",
      "resolve": {"scale": {"color": "independent", "radius": "independent", "theta": "independent", "x": "independent", "y": "independent"}, "legend": {"color": "independent"}},
      "hconcat": [
        {
          "width": 674, "height": 532,
          "resolve": {"scale": {"radius": "independent"}},
          "layer": [
            {"data": {"name": "compass"}, "mark": {"type": "arc", "fill": null, "stroke": "#a8a8a8", "strokeWidth": 0.8, "strokeDash": [1.5, 2.5], "strokeDashOffset": 0.75},
             "encoding": {"x": {"datum": 49.96, "type": "quantitative", "scale": {"domain": [0, 100], "nice": false, "zero": false}, "axis": null}, "y": {"datum": 54.23, "type": "quantitative", "scale": {"domain": [0, 100], "nice": false, "zero": false, "reverse": true}, "axis": null},
                          "theta": {"field": "a", "type": "quantitative", "stack": null, "scale": {"type": "linear", "domain": [0, 360], "range": [0, 6.283185307179586]}}, "theta2": {"field": "a"},
                          "radius": {"datum": 40, "type": "quantitative", "stack": null, "scale": {"type": "linear", "domain": [0, 40], "range": [0, 200], "zero": true, "nice": false}}}},
            {"data": {"name": "r40"}, "mark": {"type": "arc", "theta": 0, "theta2": 6.2832, "fill": null, "stroke": "#a8a8a8", "strokeWidth": 0.8, "strokeDash": [1.5, 2.5]},
             "encoding": {"x": {"datum": 49.96, "type": "quantitative"}, "y": {"datum": 54.23, "type": "quantitative"}, "radius": {"field": "r", "type": "quantitative", "stack": null, "scale": {"type": "linear", "domain": [0, 40], "range": [0, 200], "zero": true, "nice": false}}}},
            {"data": {"name": "rudan"}, "mark": {"type": "arc", "thetaOffset": -0.3927, "theta2Offset": 0.3927},
             "encoding": {"x": {"datum": 49.96, "type": "quantitative"}, "y": {"datum": 54.23, "type": "quantitative"},
                          "theta": {"field": "dir", "type": "quantitative", "stack": null}, "theta2": {"field": "dir"},
                          "radius": {"field": "lo", "type": "quantitative", "stack": null, "scale": {"type": "linear", "domain": [0, 40], "range": [0, 200], "zero": true, "nice": false}}, "radius2": {"field": "hi"},
                          "color": {"field": "speed", "type": "nominal", "scale": {"domain": [">21", "17-21", "11-16", "7-10", "4-6", "1-3"], "range": ["#ff0000", "#ff00ff", "#ffc800", "#ffff00", "#00ffff", "#009600"]},
                                    "legend": {"orient": "none", "legendX": 92, "legendY": 58, "title": "Wind speed [kt]", "symbolSize": 400}}}},
            {"data": {"values": [{}]}, "mark": {"type": "arc", "theta": 0, "theta2": 6.2832, "fill": null, "stroke": "#999999", "strokeWidth": 1},
             "encoding": {"x": {"datum": 49.96, "type": "quantitative"}, "y": {"datum": 54.23, "type": "quantitative"}, "radius": {"datum": 40, "type": "quantitative", "stack": null, "scale": {"type": "linear", "domain": [0, 40], "range": [0, 200], "zero": true, "nice": false}}}},
            {"data": {"name": "compass"}, "transform": [{"filter": "datum.a == 0"}], "mark": {"type": "text", "radiusOffset": 4.8, "fontSize": 8, "fill": "#222222"},
             "encoding": {"x": {"datum": 49.96, "type": "quantitative"}, "y": {"datum": 54.23, "type": "quantitative"}, "theta": {"field": "a", "type": "quantitative", "stack": null}, "radius": {"datum": 40, "type": "quantitative", "stack": null, "scale": {"type": "linear", "domain": [0, 40], "range": [0, 200], "zero": true, "nice": false}}, "text": {"field": "n"}}},
            {"data": {"name": "compass"}, "transform": [{"filter": "datum.a == 180"}], "mark": {"type": "text", "radiusOffset": 4.7, "fontSize": 8, "fill": "#222222"},
             "encoding": {"x": {"datum": 49.96, "type": "quantitative"}, "y": {"datum": 54.23, "type": "quantitative"}, "theta": {"field": "a", "type": "quantitative", "stack": null}, "radius": {"datum": 40, "type": "quantitative", "stack": null, "scale": {"type": "linear", "domain": [0, 40], "range": [0, 200], "zero": true, "nice": false}}, "text": {"field": "n"}}},
            {"data": {"name": "compass"}, "transform": [{"filter": "datum.a == 22.5 || datum.a == 157.5 || datum.a == 202.5 || datum.a == 337.5"}], "mark": {"type": "text", "radiusOffset": 6.9, "fontSize": 8, "fill": "#222222"},
             "encoding": {"x": {"datum": 49.96, "type": "quantitative"}, "y": {"datum": 54.23, "type": "quantitative"}, "theta": {"field": "a", "type": "quantitative", "stack": null}, "radius": {"datum": 40, "type": "quantitative", "stack": null, "scale": {"type": "linear", "domain": [0, 40], "range": [0, 200], "zero": true, "nice": false}}, "text": {"field": "n"}}},
            {"data": {"name": "compass"}, "transform": [{"filter": "datum.a == 45 || datum.a == 135 || datum.a == 225 || datum.a == 315"}], "mark": {"type": "text", "radiusOffset": 14.7, "fontSize": 8, "fill": "#222222"},
             "encoding": {"x": {"datum": 49.96, "type": "quantitative"}, "y": {"datum": 54.23, "type": "quantitative"}, "theta": {"field": "a", "type": "quantitative", "stack": null}, "radius": {"datum": 40, "type": "quantitative", "stack": null, "scale": {"type": "linear", "domain": [0, 40], "range": [0, 200], "zero": true, "nice": false}}, "text": {"field": "n"}}},
            {"data": {"name": "compass"}, "transform": [{"filter": "datum.a == 67.5 || datum.a == 112.5 || datum.a == 247.5 || datum.a == 292.5"}], "mark": {"type": "text", "radiusOffset": 20.2, "fontSize": 8, "fill": "#222222"},
             "encoding": {"x": {"datum": 49.96, "type": "quantitative"}, "y": {"datum": 54.23, "type": "quantitative"}, "theta": {"field": "a", "type": "quantitative", "stack": null}, "radius": {"datum": 40, "type": "quantitative", "stack": null, "scale": {"type": "linear", "domain": [0, 40], "range": [0, 200], "zero": true, "nice": false}}, "text": {"field": "n"}}},
            {"data": {"name": "compass"}, "transform": [{"filter": "datum.a == 90"}], "mark": {"type": "text", "align": "left", "radiusOffset": 12.9, "fontSize": 8, "fill": "#222222"},
             "encoding": {"x": {"datum": 49.96, "type": "quantitative"}, "y": {"datum": 54.23, "type": "quantitative"}, "theta": {"field": "a", "type": "quantitative", "stack": null}, "radius": {"datum": 40, "type": "quantitative", "stack": null, "scale": {"type": "linear", "domain": [0, 40], "range": [0, 200], "zero": true, "nice": false}}, "text": {"field": "n"}}},
            {"data": {"name": "compass"}, "transform": [{"filter": "datum.a == 270"}], "mark": {"type": "text", "align": "right", "radiusOffset": 12.8, "fontSize": 8, "fill": "#222222"},
             "encoding": {"x": {"datum": 49.96, "type": "quantitative"}, "y": {"datum": 54.23, "type": "quantitative"}, "theta": {"field": "a", "type": "quantitative", "stack": null}, "radius": {"datum": 40, "type": "quantitative", "stack": null, "scale": {"type": "linear", "domain": [0, 40], "range": [0, 200], "zero": true, "nice": false}}, "text": {"field": "n"}}},
            {"data": {"name": "r40"}, "mark": {"type": "text", "fontSize": 8.5, "fill": "#111111", "dx": 3, "dy": -3},
             "encoding": {"x": {"datum": 49.96, "type": "quantitative"}, "y": {"datum": 54.23, "type": "quantitative"}, "theta": {"datum": 133, "type": "quantitative"}, "radius": {"field": "r", "type": "quantitative", "stack": null, "scale": {"type": "linear", "domain": [0, 40], "range": [-4.3, 208.9], "zero": false, "nice": false}}, "text": {"field": "t"}}},
            {"data": {"values": [{}]}, "mark": {"type": "text", "fontSize": 24, "fill": "#222222", "baseline": "middle"},
             "encoding": {"x": {"datum": 49.85, "type": "quantitative"}, "y": {"datum": 4.42, "type": "quantitative"}, "text": {"value": "رودان"}}},
            {"data": {"values": [{}]}, "mark": {"type": "text", "font": "Liberation Sans", "fontSize": 7.6, "align": "left", "baseline": "top", "lineHeight": 7.8, "fill": "#111111"},
             "encoding": {"x": {"datum": 76.77, "type": "quantitative"}, "y": {"datum": 10.9, "type": "quantitative"}, "text": {"value": ["Data source: SYNOP", "Sectors: 8", "Obs.count: 465", "Calm wind: 17.8 %"]}}},
            {"data": {"values": [{}]}, "mark": {"type": "text", "fontSize": 10, "align": "center", "baseline": "top", "lineHeight": 11, "fill": "#222222"},
             "encoding": {"x": {"datum": 50.1, "type": "quantitative"}, "y": {"datum": 93.98, "type": "quantitative"}, "text": {"value": ["Rudan - 99656 (lat: 27°27'32.4\"N, lon: 57°11'09.6\"E, elev: 220m)", "2023-06-22 - 2023-09-22"]}}},
            {"data": {"values": [{}]}, "mark": {"type": "arc", "radius": 17, "radius2": 13, "theta": -1.0, "theta2": 3.9, "fill": "#1a1ae6"},
             "encoding": {"x": {"datum": 84.72, "type": "quantitative"}, "y": {"datum": 88.72, "type": "quantitative"}}},
            {"data": {"values": [{}]}, "mark": {"type": "arc", "radius": 11, "radius2": 7.5, "theta": -0.6, "theta2": 3.9, "fill": "#1a1ae6"},
             "encoding": {"x": {"datum": 84.72, "type": "quantitative"}, "y": {"datum": 88.72, "type": "quantitative"}}},
            {"data": {"values": [{}]}, "mark": {"type": "arc", "radius": 5.5, "radius2": 2, "theta": 0, "theta2": 6.2832, "fill": "#1a1ae6"},
             "encoding": {"x": {"datum": 84.72, "type": "quantitative"}, "y": {"datum": 88.72, "type": "quantitative"}}},
            {"data": {"values": [{}]}, "mark": {"type": "text", "fontSize": 4.5, "fontWeight": "bold", "align": "right", "baseline": "top", "lineHeight": 5, "fill": "#1a1ae6", "dx": 5, "dy": -23},
             "encoding": {"x": {"datum": 84.72, "type": "quantitative"}, "y": {"datum": 88.72, "type": "quantitative"}, "text": {"value": ["سازمان هواشناسی کشور", "I.R. OF IRAN", "METEOROLOGICAL", "ORGANIZATION"]}}}
          ]
        },
        {
          "width": 673, "height": 532,
          "resolve": {"scale": {"radius": "independent"}},
          "layer": [
            {"data": {"name": "compass"}, "mark": {"type": "arc", "fill": null, "stroke": "#a8a8a8", "strokeWidth": 0.8, "strokeDash": [1.5, 2.5], "strokeDashOffset": 0.75},
             "encoding": {"x": {"datum": 50.37, "type": "quantitative", "scale": {"domain": [0, 100], "nice": false, "zero": false}, "axis": null}, "y": {"datum": 53.82, "type": "quantitative", "scale": {"domain": [0, 100], "nice": false, "zero": false, "reverse": true}, "axis": null},
                          "theta": {"field": "a", "type": "quantitative", "stack": null, "scale": {"type": "linear", "domain": [0, 360], "range": [0, 6.283185307179586]}}, "theta2": {"field": "a"},
                          "radius": {"datum": 58, "type": "quantitative", "stack": null, "scale": {"type": "linear", "domain": [0, 58], "range": [0, 196], "zero": true, "nice": false}}}},
            {"data": {"name": "r58"}, "mark": {"type": "arc", "theta": 0, "theta2": 6.2832, "fill": null, "stroke": "#a8a8a8", "strokeWidth": 0.8, "strokeDash": [1.5, 2.5]},
             "encoding": {"x": {"datum": 50.37, "type": "quantitative"}, "y": {"datum": 53.82, "type": "quantitative"}, "radius": {"field": "r", "type": "quantitative", "stack": null, "scale": {"type": "linear", "domain": [0, 58], "range": [0, 196], "zero": true, "nice": false}}}},
            {"data": {"name": "khamir"}, "mark": {"type": "arc", "thetaOffset": -0.3927, "theta2Offset": 0.3927},
             "encoding": {"x": {"datum": 50.37, "type": "quantitative"}, "y": {"datum": 53.82, "type": "quantitative"},
                          "theta": {"field": "dir", "type": "quantitative", "stack": null}, "theta2": {"field": "dir"},
                          "radius": {"field": "lo", "type": "quantitative", "stack": null, "scale": {"type": "linear", "domain": [0, 58], "range": [0, 196], "zero": true, "nice": false}}, "radius2": {"field": "hi"},
                          "color": {"field": "speed", "type": "nominal", "scale": {"domain": [">21", "17-21", "11-16", "7-10", "4-6", "1-3"], "range": ["#ff0000", "#ff00ff", "#ffc800", "#ffff00", "#00ffff", "#009600"]},
                                    "legend": {"orient": "none", "legendX": 96, "legendY": 58, "title": "Wind speed [kt]", "symbolSize": 400}}}},
            {"data": {"values": [{}]}, "mark": {"type": "arc", "theta": 0, "theta2": 6.2832, "fill": null, "stroke": "#999999", "strokeWidth": 1},
             "encoding": {"x": {"datum": 50.37, "type": "quantitative"}, "y": {"datum": 53.82, "type": "quantitative"}, "radius": {"datum": 58, "type": "quantitative", "stack": null, "scale": {"type": "linear", "domain": [0, 58], "range": [0, 196], "zero": true, "nice": false}}}},
            {"data": {"name": "compass"}, "transform": [{"filter": "datum.a == 0"}], "mark": {"type": "text", "radiusOffset": 7.7, "fontSize": 8, "fill": "#222222"},
             "encoding": {"x": {"datum": 50.37, "type": "quantitative"}, "y": {"datum": 53.82, "type": "quantitative"}, "theta": {"field": "a", "type": "quantitative", "stack": null}, "radius": {"datum": 58, "type": "quantitative", "stack": null, "scale": {"type": "linear", "domain": [0, 58], "range": [0, 196], "zero": true, "nice": false}}, "text": {"field": "n"}}},
            {"data": {"name": "compass"}, "transform": [{"filter": "datum.a == 180"}], "mark": {"type": "text", "radiusOffset": 7.7, "fontSize": 8, "fill": "#222222"},
             "encoding": {"x": {"datum": 50.37, "type": "quantitative"}, "y": {"datum": 53.82, "type": "quantitative"}, "theta": {"field": "a", "type": "quantitative", "stack": null}, "radius": {"datum": 58, "type": "quantitative", "stack": null, "scale": {"type": "linear", "domain": [0, 58], "range": [0, 196], "zero": true, "nice": false}}, "text": {"field": "n"}}},
            {"data": {"name": "compass"}, "transform": [{"filter": "datum.a == 22.5 || datum.a == 157.5 || datum.a == 202.5 || datum.a == 337.5"}], "mark": {"type": "text", "radiusOffset": 9.1, "fontSize": 8, "fill": "#222222"},
             "encoding": {"x": {"datum": 50.37, "type": "quantitative"}, "y": {"datum": 53.82, "type": "quantitative"}, "theta": {"field": "a", "type": "quantitative", "stack": null}, "radius": {"datum": 58, "type": "quantitative", "stack": null, "scale": {"type": "linear", "domain": [0, 58], "range": [0, 196], "zero": true, "nice": false}}, "text": {"field": "n"}}},
            {"data": {"name": "compass"}, "transform": [{"filter": "datum.a == 45 || datum.a == 135 || datum.a == 225 || datum.a == 315"}], "mark": {"type": "text", "radiusOffset": 17.3, "fontSize": 8, "fill": "#222222"},
             "encoding": {"x": {"datum": 50.37, "type": "quantitative"}, "y": {"datum": 53.82, "type": "quantitative"}, "theta": {"field": "a", "type": "quantitative", "stack": null}, "radius": {"datum": 58, "type": "quantitative", "stack": null, "scale": {"type": "linear", "domain": [0, 58], "range": [0, 196], "zero": true, "nice": false}}, "text": {"field": "n"}}},
            {"data": {"name": "compass"}, "transform": [{"filter": "datum.a == 67.5 || datum.a == 112.5 || datum.a == 247.5 || datum.a == 292.5"}], "mark": {"type": "text", "radiusOffset": 22.9, "fontSize": 8, "fill": "#222222"},
             "encoding": {"x": {"datum": 50.37, "type": "quantitative"}, "y": {"datum": 53.82, "type": "quantitative"}, "theta": {"field": "a", "type": "quantitative", "stack": null}, "radius": {"datum": 58, "type": "quantitative", "stack": null, "scale": {"type": "linear", "domain": [0, 58], "range": [0, 196], "zero": true, "nice": false}}, "text": {"field": "n"}}},
            {"data": {"name": "compass"}, "transform": [{"filter": "datum.a == 90"}], "mark": {"type": "text", "align": "left", "radiusOffset": 15.9, "fontSize": 8, "fill": "#222222"},
             "encoding": {"x": {"datum": 50.37, "type": "quantitative"}, "y": {"datum": 53.82, "type": "quantitative"}, "theta": {"field": "a", "type": "quantitative", "stack": null}, "radius": {"datum": 58, "type": "quantitative", "stack": null, "scale": {"type": "linear", "domain": [0, 58], "range": [0, 196], "zero": true, "nice": false}}, "text": {"field": "n"}}},
            {"data": {"name": "compass"}, "transform": [{"filter": "datum.a == 270"}], "mark": {"type": "text", "align": "right", "radiusOffset": 15.6, "fontSize": 8, "fill": "#222222"},
             "encoding": {"x": {"datum": 50.37, "type": "quantitative"}, "y": {"datum": 53.82, "type": "quantitative"}, "theta": {"field": "a", "type": "quantitative", "stack": null}, "radius": {"datum": 58, "type": "quantitative", "stack": null, "scale": {"type": "linear", "domain": [0, 58], "range": [0, 196], "zero": true, "nice": false}}, "text": {"field": "n"}}},
            {"data": {"name": "r58"}, "mark": {"type": "text", "fontSize": 8.5, "fill": "#111111", "dx": 3, "dy": -3},
             "encoding": {"x": {"datum": 50.37, "type": "quantitative"}, "y": {"datum": 53.82, "type": "quantitative"}, "theta": {"datum": 133, "type": "quantitative"}, "radius": {"field": "r", "type": "quantitative", "stack": null, "scale": {"type": "linear", "domain": [0, 58], "range": [-4.0, 207.1], "zero": false, "nice": false}}, "text": {"field": "t"}}},
            {"data": {"values": [{}]}, "mark": {"type": "text", "fontSize": 24, "fill": "#222222", "baseline": "middle"},
             "encoding": {"x": {"datum": 50.64, "type": "quantitative"}, "y": {"datum": 4.42, "type": "quantitative"}, "text": {"value": "خمیر"}}},
            {"data": {"values": [{}]}, "mark": {"type": "text", "font": "Liberation Sans", "fontSize": 7.6, "align": "left", "baseline": "top", "lineHeight": 7.8, "fill": "#111111"},
             "encoding": {"x": {"datum": 77.4, "type": "quantitative"}, "y": {"datum": 10.9, "type": "quantitative"}, "text": {"value": ["Data source: SYNOP", "Sectors: 8", "Obs.count: 464", "Calm wind: 3.9 %"]}}},
            {"data": {"values": [{}]}, "mark": {"type": "text", "fontSize": 10, "align": "center", "baseline": "top", "lineHeight": 11, "fill": "#222222"},
             "encoding": {"x": {"datum": 50.47, "type": "quantitative"}, "y": {"datum": 93.23, "type": "quantitative"}, "text": {"value": ["Bandar-E-Khamir - 99674 (lat: 26°57'07.2\"N, lon: 55°34'15.6\"E, elev: 27m)", "2023-06-22 - 2023-09-22"]}}},
            {"data": {"values": [{}]}, "mark": {"type": "arc", "radius": 17, "radius2": 13, "theta": -1.0, "theta2": 3.9, "fill": "#1a1ae6"},
             "encoding": {"x": {"datum": 85.36, "type": "quantitative"}, "y": {"datum": 88.16, "type": "quantitative"}}},
            {"data": {"values": [{}]}, "mark": {"type": "arc", "radius": 11, "radius2": 7.5, "theta": -0.6, "theta2": 3.9, "fill": "#1a1ae6"},
             "encoding": {"x": {"datum": 85.36, "type": "quantitative"}, "y": {"datum": 88.16, "type": "quantitative"}}},
            {"data": {"values": [{}]}, "mark": {"type": "arc", "radius": 5.5, "radius2": 2, "theta": 0, "theta2": 6.2832, "fill": "#1a1ae6"},
             "encoding": {"x": {"datum": 85.36, "type": "quantitative"}, "y": {"datum": 88.16, "type": "quantitative"}}},
            {"data": {"values": [{}]}, "mark": {"type": "text", "fontSize": 4.5, "fontWeight": "bold", "align": "right", "baseline": "top", "lineHeight": 5, "fill": "#1a1ae6", "dx": 5, "dy": -23},
             "encoding": {"x": {"datum": 85.36, "type": "quantitative"}, "y": {"datum": 88.16, "type": "quantitative"}, "text": {"value": ["سازمان هواشناسی کشور", "I.R. OF IRAN", "METEOROLOGICAL", "ORGANIZATION"]}}}
          ]
        }
      ]
    }
  ]
}
